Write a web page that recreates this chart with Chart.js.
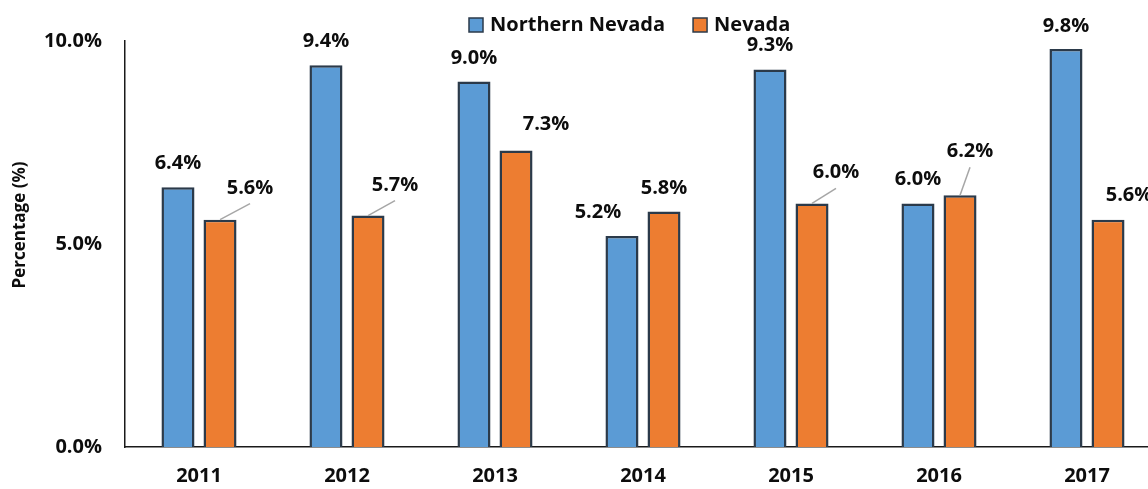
<!DOCTYPE html>
<html>
<head>
<meta charset="utf-8">
<title>Northern Nevada vs Nevada</title>
<script src="https://cdn.jsdelivr.net/npm/chart.js@4.4.0/dist/chart.umd.min.js"></script>
<style>
  html, body { margin: 0; padding: 0; background: #fff; overflow: hidden; }
  #wrap { width: 1148px; height: 489px; overflow: hidden; }
  canvas { display: block; }
</style>
</head>
<body>
<div id="wrap"><canvas id="rateChart" width="1161" height="489"></canvas></div>
<script>
// Yearly percentages
const years = ['2011', '2012', '2013', '2014', '2015', '2016', '2017'];
const northernNevada = [6.4, 9.4, 9.0, 5.2, 9.3, 6.0, 9.8];
const nevada = [5.6, 5.7, 7.3, 5.8, 6.0, 6.2, 5.6];
const yTicks = [0, 5, 10];

const BLUE = '#5B9BD5';
const ORANGE = '#ED7D31';
const EDGE = '#2B3A4A';
const FONT = '"Open Sans", Lato, sans-serif';

// Value label placement: [dx from bar centre, baseline offset from bar top, leader line?]
const northLabelPos = [[0, -18], [0, -18], [0, -18], [-24, -18], [0, -18], [0, -18], [0, -17]];
const nevadaLabelPos = [[30, -26, true], [27, -25, true], [30, -21], [0, -18], [24, -25, true], [10, -38, true], [21, -19]];

const valueLabels = {
  id: 'valueLabels',
  afterDatasetsDraw(chart) {
    const ctx = chart.ctx;
    ctx.save();
    ctx.font = 'bold 20px ' + FONT;
    ctx.textAlign = 'center';
    ctx.textBaseline = 'alphabetic';
    chart.data.datasets.forEach((ds, di) => {
      const meta = chart.getDatasetMeta(di);
      meta.data.forEach((bar, i) => {
        const [dx, dy, leader] = ds.labelPos[i];
        const tx = bar.x + dx;
        const ty = bar.y + dy;
        if (leader) {
          ctx.strokeStyle = '#A6A6A6';
          ctx.lineWidth = 1.5;
          ctx.beginPath();
          ctx.moveTo(tx, ty + 10);
          ctx.lineTo(bar.x, bar.y);
          ctx.stroke();
        }
        ctx.fillStyle = '#0D0D0D';
        ctx.fillText(ds.data[i].toFixed(1) + '%', tx, ty);
      });
    });
    ctx.restore();
  },
  afterDraw(chart) {
    const ctx = chart.ctx;
    ctx.save();
    // legend across the top, centred on x = 628
    ctx.font = 'bold 20px ' + FONT;
    ctx.textBaseline = 'alphabetic';
    ctx.textAlign = 'left';
    const items = chart.data.datasets.map(ds => ({ ds, w: ctx.measureText(ds.label).width }));
    const total = items.reduce((s, it) => s + 21 + it.w, 0) + 28 * (items.length - 1);
    let x = Math.round(630 - total / 2);
    items.forEach(({ ds, w }) => {
      ctx.fillStyle = ds.backgroundColor;
      ctx.fillRect(x, 18, 14, 14);
      ctx.strokeStyle = EDGE;
      ctx.lineWidth = 1.5;
      ctx.strokeRect(x, 18, 14, 14);
      ctx.fillStyle = '#0D0D0D';
      ctx.fillText(ds.label, x + 21, 31);
      x += 21 + w + 28;
    });
    // y axis title
    ctx.font = 'bold 17px ' + FONT;
    ctx.translate(25, 225);
    ctx.rotate(-Math.PI / 2);
    ctx.textAlign = 'center';
    ctx.fillText('Percentage (%)', 0, 0);
    ctx.restore();
  }
};

function drawChart() {
  Chart.defaults.color = '#0D0D0D';
  Chart.defaults.font.family = FONT;

  new Chart(document.getElementById('rateChart'), {
    type: 'bar',
    data: {
      labels: years,
      datasets: [
        {
          label: 'Northern Nevada',
          data: northernNevada,
          labelPos: northLabelPos,
          backgroundColor: BLUE,
          borderColor: EDGE,
          borderWidth: 2.5,
          barPercentage: 0.786,
          categoryPercentage: 0.568
        },
        {
          label: 'Nevada',
          data: nevada,
          labelPos: nevadaLabelPos,
          backgroundColor: ORANGE,
          borderColor: EDGE,
          borderWidth: 2.5,
          barPercentage: 0.786,
          categoryPercentage: 0.568
        }
      ]
    },
    options: {
      responsive: false,
      animation: false,
      layout: { padding: { top: 41, left: 0, right: 0, bottom: 0 } },
      plugins: {
        legend: { display: false },
        tooltip: { enabled: false }
      },
      scales: {
        x: {
          grid: { display: false, drawTicks: false },
          border: { display: true, color: '#1A1A1A', width: 1.5 },
          ticks: {
            font: { size: 20, weight: 'bold' },
            padding: 17
          },
          afterFit(scale) {
            scale.height = 42;
            scale.paddingLeft = 0;
            scale.paddingRight = 0;
          }
        },
        y: {
          min: 0,
          max: 10,
          grid: { display: false, drawTicks: false },
          border: { display: true, color: '#1A1A1A', width: 1.5 },
          ticks: {
            font: { size: 20, weight: 'bold' },
            padding: 23,
            callback: (v) => v.toFixed(1) + '%'
          },
          afterBuildTicks(scale) {
            scale.ticks = yTicks.map(v => ({ value: v }));
          },
          afterFit(scale) {
            scale.width = 125;
            scale.paddingTop = 0;
            scale.paddingBottom = 0;
          }
        }
      }
    },
    plugins: [valueLabels]
  });
}

document.fonts.load('bold 20px "Open Sans"').then(drawChart, drawChart);
</script>
</body>
</html>
